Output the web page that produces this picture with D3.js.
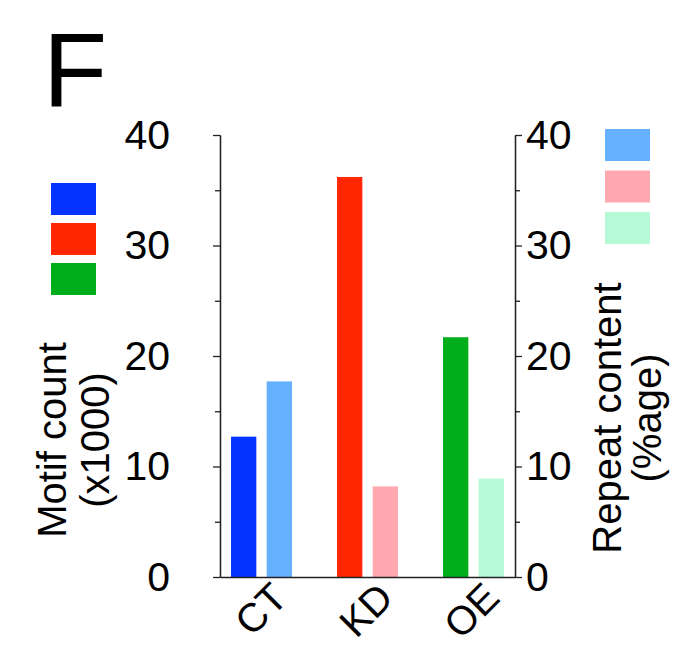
<!DOCTYPE html>
<html>
<head>
<meta charset="utf-8">
<script src="https://cdn.jsdelivr.net/npm/d3@7"></script>
<style>
  body { margin: 0; background: #fff; }
  svg text { font-family: "Liberation Sans", Arial, Helvetica, sans-serif; fill: #000; }
</style>
</head>
<body>
<div id="container"></div>
<script>
// values
const groups = ['CT', 'KD', 'OE'];
const motifCount = [12.7, 36.2, 21.7];     // x1000, left axis
const repeatContent = [17.7, 8.2, 8.9];    // %age, right axis
const motifColors = ['#0433ff', '#ff2600', '#00ae1c'];
const repeatColors = ['#66b1ff', '#ffa8b0', '#b5f9d6'];
const majorTicks = [0, 10, 20, 30, 40];
const minorTicks = [5, 15, 25, 35];

const width = 700;
const height = 646;
const plotLeft = 220, plotRight = 515, plotTop = 135, plotBottom = 577;

const svg = d3.select('#container')
  .append('svg')
  .attr('width', width)
  .attr('height', height);

const x = d3.scaleBand()
  .domain(groups)
  .range([plotLeft, plotRight])
  .paddingInner(0.425)
  .paddingOuter(0.104);

const sub = d3.scaleBand()
  .domain(['motif', 'repeat'])
  .range([0, x.bandwidth()])
  .paddingInner(0.29);

const yLeft = d3.scaleLinear().domain([0, 40]).range([plotBottom, plotTop]);
const yRight = d3.scaleLinear().domain([0, 40]).range([plotBottom, plotTop]);

// bars
const rows = groups.map((g, i) => ({
  g, motif: motifCount[i], repeat: repeatContent[i],
  mc: motifColors[i], rc: repeatColors[i]
}));

svg.selectAll('.bar-motif')
  .data(rows)
  .enter()
  .append('rect')
  .attr('class', 'bar-motif')
  .attr('x', d => x(d.g) + sub('motif'))
  .attr('width', sub.bandwidth())
  .attr('y', d => yLeft(d.motif))
  .attr('height', d => yLeft(0) - yLeft(d.motif))
  .attr('fill', d => d.mc);

svg.selectAll('.bar-repeat')
  .data(rows)
  .enter()
  .append('rect')
  .attr('class', 'bar-repeat')
  .attr('x', d => x(d.g) + sub('repeat'))
  .attr('width', sub.bandwidth())
  .attr('y', d => yRight(d.repeat))
  .attr('height', d => yRight(0) - yRight(d.repeat))
  .attr('fill', d => d.rc);

// axes
const styleAxis = g => {
  g.selectAll('path, line').attr('stroke', '#222').attr('stroke-width', 1.3);
  g.selectAll('text').attr('font-size', '41px').attr('font-family', '"Liberation Sans", Arial, sans-serif').attr('fill', '#000');
};

svg.append('g')
  .attr('transform', `translate(${plotLeft},0)`)
  .call(d3.axisLeft(yLeft).tickValues(majorTicks).tickSize(7).tickSizeOuter(0).tickPadding(43))
  .call(styleAxis);
svg.append('g')
  .attr('transform', `translate(${plotLeft},0)`)
  .call(d3.axisLeft(yLeft).tickValues(minorTicks).tickSize(5).tickSizeOuter(0).tickFormat(''))
  .call(styleAxis);

svg.append('g')
  .attr('transform', `translate(${plotRight},0)`)
  .call(d3.axisRight(yRight).tickValues(majorTicks).tickSize(7).tickSizeOuter(0).tickPadding(4))
  .call(styleAxis);
svg.append('g')
  .attr('transform', `translate(${plotRight},0)`)
  .call(d3.axisRight(yRight).tickValues(minorTicks).tickSize(5).tickSizeOuter(0).tickFormat(''))
  .call(styleAxis);

svg.append('g')
  .attr('transform', `translate(0,${plotBottom})`)
  .call(d3.axisBottom(x).tickSize(0).tickSizeOuter(0).tickFormat(''))
  .call(styleAxis);

// rotated category labels
svg.selectAll('.xlab')
  .data(groups)
  .enter()
  .append('text')
  .attr('class', 'xlab')
  .attr('text-anchor', 'end')
  .attr('font-size', '40px')
  .attr('transform', d => `translate(${x(d) + x.bandwidth() / 2 + 28},${plotBottom + 23}) rotate(-45)`)
  .text(d => d);

// axis titles
const leftTitle = svg.append('text')
  .attr('text-anchor', 'middle')
  .attr('font-size', '40px')
  .attr('transform', 'translate(66,440) rotate(-90)');
leftTitle.append('tspan').attr('x', 0).attr('y', 0).text('Motif count');
leftTitle.append('tspan').attr('x', 0).attr('y', 43).text('(x1000)');

const rightTitle = svg.append('text')
  .attr('text-anchor', 'middle')
  .attr('font-size', '40px')
  .attr('transform', 'translate(621,418) rotate(-90)');
rightTitle.append('tspan').attr('x', 0).attr('y', 0).text('Repeat content');
rightTitle.append('tspan').attr('x', 0).attr('y', 40).text('(%age)');

// legends (color swatches only)
svg.selectAll('.leg-motif')
  .data(motifColors)
  .enter()
  .append('rect')
  .attr('x', 51)
  .attr('y', (d, i) => 183 + i * 40)
  .attr('width', 45)
  .attr('height', 32)
  .attr('fill', d => d);

svg.selectAll('.leg-repeat')
  .data(repeatColors)
  .enter()
  .append('rect')
  .attr('x', 605)
  .attr('y', (d, i) => 129 + i * 41.5)
  .attr('width', 45)
  .attr('height', 32)
  .attr('fill', d => d);

// panel letter
svg.append('text')
  .attr('x', 43)
  .attr('y', 107)
  .attr('font-size', '105px')
  .text('F');
</script>
</body>
</html>
